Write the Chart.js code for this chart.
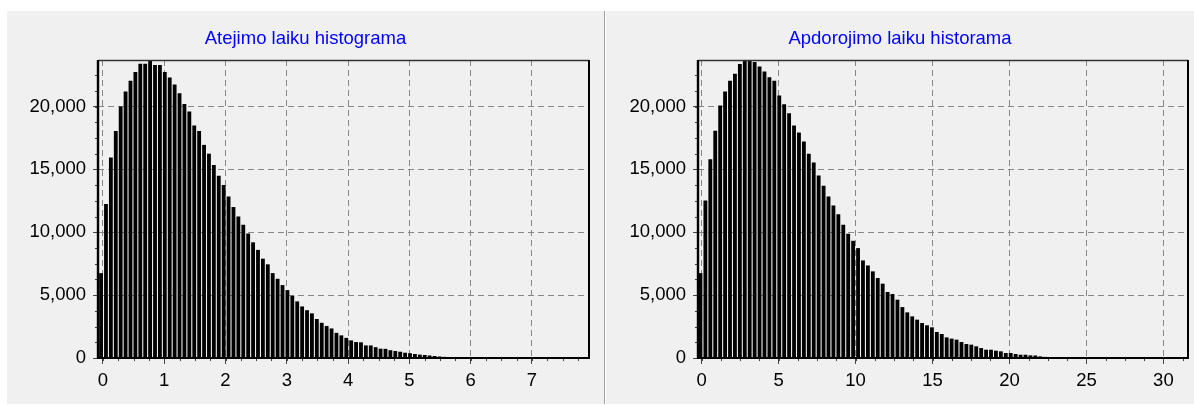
<!DOCTYPE html>
<html>
<head>
<meta charset="utf-8">
<script src="https://cdn.jsdelivr.net/npm/chart.js@4.4.0/dist/chart.umd.min.js"></script>
<style>
  html, body { margin: 0; padding: 0; background: #fff; }
  body { width: 1194px; height: 405px; position: relative; overflow: hidden; }
  .panel { position: absolute; top: 11px; height: 393px; background: #f0f0f0; }
  #p1 { left: 7px; width: 597px; }
  #p2 { left: 606px; width: 588px; }
  #sep { position: absolute; left: 604px; top: 11px; width: 1px; height: 393px; background: #a0a0a0; }
  canvas { display: block; }
</style>
</head>
<body>
<div class="panel" id="p1"><canvas id="c1" width="597" height="393"></canvas></div>
<div id="sep"></div>
<div class="panel" id="p2"><canvas id="c2" width="588" height="393"></canvas></div>
<script>
// arrival times: first bin centre, bin width, counts per bin
const arrivalTitle = 'Atejimo laiku histograma';
const arrivalFirstBin = -0.03;
const arrivalBinWidth = 0.08;
const arrivalCounts = [
  6750, 12250, 15950, 18050, 20000, 21200, 22050, 22750, 23400, 23400,
  23700, 23300, 23300, 22750, 22300, 21750, 21050, 20200, 19600, 18500,
  18050, 16950, 16250, 15350, 14500, 13750, 12850, 12000, 11250, 10600,
  9900, 9200, 8600, 7900, 7450, 6750, 6300, 5800, 5400, 4950,
  4500, 4100, 3800, 3550, 3100, 2800, 2550, 2350, 2000, 1800,
  1600, 1400, 1270, 1250, 1000, 1000, 860, 740, 730, 620,
  560, 500, 420, 380, 320, 270, 240, 200, 160, 120,
  90, 70, 50, 40, 30, 20, 15, 10, 8, 5
];
const arrivalXTicks = [0, 1, 2, 3, 4, 5, 6, 7];

// processing times
const serviceTitle = 'Apdorojimo laiku historama';
const serviceFirstBin = -0.08;
const serviceBinWidth = 0.32;
const serviceCounts = [
  6750, 12530, 15810, 18070, 20080, 21190, 22040, 22600, 23390, 23650,
  23700, 23550, 23180, 22780, 22330, 22040, 20870, 20190, 19470, 18490,
  17930, 17220, 16240, 15550, 14520, 13700, 12850, 12130, 11440, 10600,
  9880, 9320, 8740, 7760, 7360, 6890, 6360, 5910, 5250, 5090,
  4640, 4050, 3630, 3310, 3050, 2780, 2600, 2440, 2070, 1910,
  1640, 1540, 1460, 1270, 1110, 1060, 930, 790, 660, 660,
  580, 530, 400, 400, 320, 260, 260, 210, 200, 130,
  90, 60, 40, 30, 20, 10
];
const serviceXTicks = [0, 5, 10, 15, 20, 25, 30];

const yTicks = [0, 5000, 10000, 15000, 20000];
const yMax = 23700;

const FONT = "'Liberation Sans', Arial, sans-serif";

// black frame round the plot + small minor ticks
const framePlugin = {
  id: 'frame',
  afterDatasetsDraw(chart, args, opts) {
    const { ctx, chartArea: a, scales } = chart;
    ctx.save();
    ctx.strokeStyle = '#444';
    ctx.lineWidth = 1;
    ctx.beginPath();
    for (let v = 0; v <= scales.x.max; v += opts.minorX) {
      const px = Math.round(scales.x.getPixelForValue(v)) + 0.5;
      ctx.moveTo(px, a.bottom);
      ctx.lineTo(px, a.bottom + 3);
    }
    for (let v = 0; v <= scales.y.max; v += opts.minorY) {
      const py = Math.round(scales.y.getPixelForValue(v)) + 0.5;
      ctx.moveTo(a.left - 3, py);
      ctx.lineTo(a.left, py);
    }
    ctx.stroke();

    ctx.strokeStyle = '#333';
    ctx.lineWidth = 1.5;
    ctx.beginPath();
    ctx.moveTo(a.left, a.top + 0.5);
    ctx.lineTo(a.right, a.top + 0.5);
    ctx.stroke();

    ctx.strokeStyle = '#000';
    ctx.lineWidth = 2.4;
    ctx.beginPath();
    ctx.moveTo(a.left, a.top);
    ctx.lineTo(a.left, a.bottom + 1);
    ctx.stroke();
    ctx.lineWidth = 2;
    ctx.beginPath();
    ctx.moveTo(a.left, a.bottom);
    ctx.lineTo(a.right, a.bottom);
    ctx.moveTo(a.right, a.top);
    ctx.lineTo(a.right, a.bottom + 1);
    ctx.stroke();
    ctx.restore();
  }
};

function histogram(id, title, firstBin, binWidth, counts, xTicks, xMin, xMax, yWidth, rightGap) {
  const points = counts.map((c, i) => ({ x: firstBin + i * binWidth, y: c }));
  const xStep = xTicks[1] - xTicks[0];
  return new Chart(document.getElementById(id), {
    type: 'bar',
    data: {
      datasets: [{
        data: points,
        backgroundColor: '#000',
        borderWidth: 0,
        categoryPercentage: 1,
        barPercentage: 0.78
      }]
    },
    options: {
      responsive: false,
      animation: false,
      layout: { padding: 0 },
      plugins: {
        legend: { display: false },
        tooltip: { enabled: false },
        title: {
          display: true,
          text: title,
          color: '#0000ff',
          font: { family: FONT, size: 18.5, weight: 'normal' },
          padding: { top: 16.5, bottom: 10.3 }
        },
        frame: { minorX: xStep / 4, minorY: (yTicks[1] - yTicks[0]) / 4 }
      },
      scales: {
        x: {
          type: 'linear',
          min: xMin,
          max: xMax,
          offset: false,
          afterBuildTicks: s => { s.ticks = xTicks.map(v => ({ value: v })); },
          ticks: {
            color: '#000',
            padding: 6,
            font: { family: FONT, size: 18.5 },
            callback: v => String(v)
          },
          grid: { offset: false, color: '#888', tickColor: '#444', tickLength: 6, lineWidth: 1 },
          border: { display: false, dash: [6, 4] },
          afterFit: s => { s.height = 46; }
        },
        y: {
          min: 0,
          max: yMax,
          afterBuildTicks: s => { s.ticks = yTicks.map(v => ({ value: v })); },
          ticks: {
            color: '#000',
            padding: 7,
            font: { family: FONT, size: 18.5 },
            callback: v => v.toLocaleString('en-US')
          },
          grid: { color: '#888', tickColor: '#444', tickLength: 5, lineWidth: 1 },
          border: { display: false, dash: [6, 4] },
          afterFit: s => { s.width = yWidth; }
        },
        edge: {
          type: 'linear',
          position: 'right',
          grid: { display: false },
          ticks: { display: false },
          border: { display: false },
          afterFit: s => { s.width = rightGap; }
        }
      }
    },
    plugins: [framePlugin]
  });
}

histogram('c1', arrivalTitle, arrivalFirstBin, arrivalBinWidth, arrivalCounts, arrivalXTicks, -0.08, 7.93, 91, 15);
histogram('c2', serviceTitle, serviceFirstBin, serviceBinWidth, serviceCounts, serviceXTicks, -0.24, 31.6, 92, 6);
</script>
</body>
</html>
